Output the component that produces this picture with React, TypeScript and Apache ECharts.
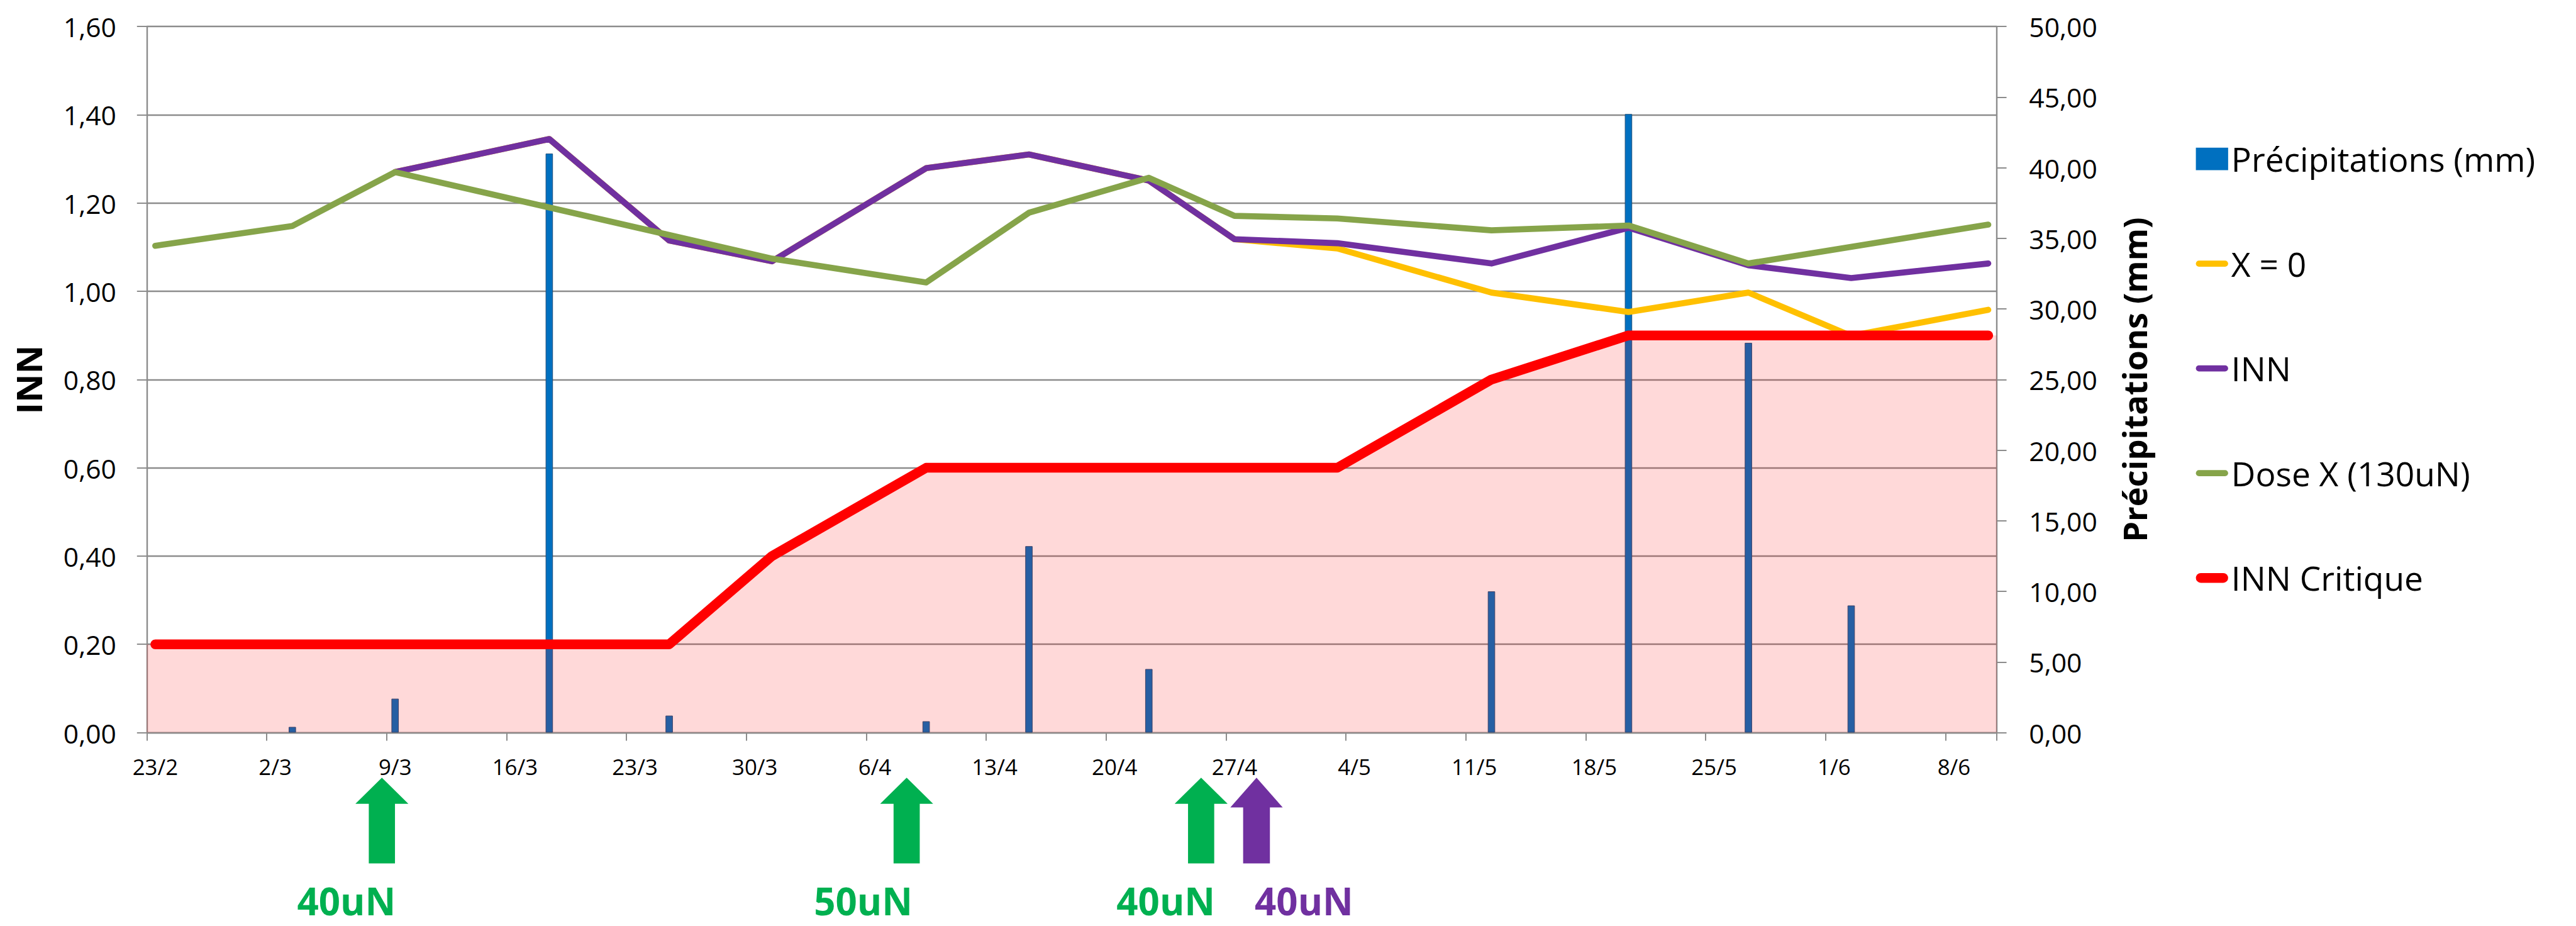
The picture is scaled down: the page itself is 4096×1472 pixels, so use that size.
import React, { useEffect, useRef } from 'react';
import * as echarts from 'echarts';

// ---------- data ----------
const START = '2015-02-23';
const N_DAYS = 108; // date axis spans 23/2 .. 10/6 (one slot per day)
const tickLabels = ['23/2', '2/3', '9/3', '16/3', '23/3', '30/3', '6/4', '13/4', '20/4', '27/4', '4/5', '11/5', '18/5', '25/5', '1/6', '8/6'];

const precipDates = ['2015-03-03', '2015-03-09', '2015-03-18', '2015-03-25', '2015-04-09', '2015-04-15', '2015-04-22', '2015-05-12', '2015-05-20', '2015-05-27', '2015-06-02'];
const precipMm = [0.4, 2.4, 41.0, 1.2, 0.8, 13.2, 4.5, 10.0, 43.8, 27.6, 9.0];

const innDates = ['2015-03-09', '2015-03-18', '2015-03-25', '2015-03-31', '2015-04-09', '2015-04-15', '2015-04-22', '2015-04-27', '2015-05-03', '2015-05-12', '2015-05-20', '2015-05-27', '2015-06-02', '2015-06-10'];
const innValues = [1.27, 1.345, 1.115, 1.068, 1.279, 1.31, 1.251, 1.118, 1.109, 1.063, 1.144, 1.059, 1.03, 1.063];
const x0Values = [1.27, 1.345, 1.115, 1.068, 1.279, 1.31, 1.251, 1.118, 1.097, 0.997, 0.953, 0.997, 0.899, 0.958];

const doseDates = ['2015-02-23', '2015-03-03', '2015-03-09', '2015-03-31', '2015-04-09', '2015-04-15', '2015-04-22', '2015-04-27', '2015-05-03', '2015-05-12', '2015-05-20', '2015-05-27', '2015-06-10'];
const doseValues = [1.103, 1.148, 1.27, 1.074, 1.02, 1.178, 1.257, 1.171, 1.165, 1.138, 1.149, 1.063, 1.151];

const critDates = ['2015-02-23', '2015-03-25', '2015-03-31', '2015-04-09', '2015-05-03', '2015-05-12', '2015-05-20', '2015-06-10'];
const critValues = [0.2, 0.2, 0.4, 0.6, 0.6, 0.8, 0.9, 0.9];

const applications = [
  { label: '40uN', kind: 'dose' },
  { label: '50uN', kind: 'dose' },
  { label: '40uN', kind: 'dose' },
  { label: '40uN', kind: 'inn' },
];

// ---------- layout / style ----------
const S = 0.968;
const FONT = "'Open Sans', sans-serif";
const GRAY = '#8C8C8C';
const GREEN_ANN = '#00B050';
const PURPLE = '#7030A0';
const YELLOW = '#FFC000';
const OLIVE = '#86A44A';
const RED = '#FF0000';
const BLUE = '#0070C0';

const arrowLayout = [
  { cx: 627.3, tx: 569, head: 43.5, shaft: 21.5, base: 1320 },
  { cx: 1489.3, tx: 1418, head: 43.5, shaft: 21.5, base: 1320 },
  { cx: 1973, tx: 1915, head: 43.5, shaft: 21.5, base: 1320 },
  { cx: 2064, tx: 2142, head: 43, shaft: 22, base: 1326 },
];
const ARROW_TIP = 1277;
const ARROW_BOTTOM = 1418;
const ANN_TEXT_Y = 1479;

const dayIndex = (iso: string) => Math.round((Date.parse(iso) - Date.parse(START)) / 86400000);
const pairs = (dates: string[], vals: number[]) => dates.map((d, i) => [dayIndex(d), vals[i]]);
const fmt = (v: number) => v.toFixed(2).replace('.', ',');

const thinIcon = (w: number, h: number) => {
  const r = h / 2;
  return `path://M${r},0 L${w - r},0 A${r},${r} 0 0 1 ${w - r},${h} L${r},${h} A${r},${r} 0 0 1 ${r},0 Z`;
};

function buildOption() {
  const categories = Array.from({ length: N_DAYS }, (_, i) => String(i));
  const areaData = [
    [0, critValues[0]],
    ...critDates.map((d, i) => [dayIndex(d) + 0.5, critValues[i]]),
    [N_DAYS, critValues[critValues.length - 1]],
  ];
  const lineCommon = (name: string, color: string, width: number, data: number[][]) => ({
    name,
    type: 'line',
    xAxisIndex: 0,
    yAxisIndex: 0,
    data,
    symbol: 'none',
    showSymbol: false,
    itemStyle: { color },
    lineStyle: { color, width, cap: 'round', join: 'round' },
    emphasis: { disabled: true },
  });

  const itemW = 53 * S;
  const itemH = 37 * S;

  const graphics: any[] = [
    {
      type: 'text',
      x: 46.5 * S,
      y: 623.5 * S,
      rotation: Math.PI / 2,
      style: { text: 'INN', fill: '#000', fontFamily: FONT, fontWeight: 'bold', fontSize: 58 * S, align: 'center', verticalAlign: 'middle' },
    },
    {
      type: 'text',
      x: 3506 * S,
      y: 623.5 * S,
      rotation: Math.PI / 2,
      style: { text: 'Précipitations (mm)', fill: '#000', fontFamily: FONT, fontWeight: 'bold', fontSize: 54 * S, align: 'center', verticalAlign: 'middle' },
    },
  ];
  applications.forEach((a, i) => {
    const L = arrowLayout[i];
    const color = a.kind === 'inn' ? PURPLE : GREEN_ANN;
    const pts = [
      [L.cx, ARROW_TIP],
      [L.cx + L.head, L.base],
      [L.cx + L.shaft, L.base],
      [L.cx + L.shaft, ARROW_BOTTOM],
      [L.cx - L.shaft, ARROW_BOTTOM],
      [L.cx - L.shaft, L.base],
      [L.cx - L.head, L.base],
    ].map(([x, y]) => [x * S, y * S]);
    graphics.push({ type: 'polygon', shape: { points: pts }, style: { fill: color } });
    graphics.push({
      type: 'text',
      x: L.tx * S,
      y: ANN_TEXT_Y * S,
      style: { text: a.label, fill: color, fontFamily: FONT, fontWeight: 'bold', fontSize: 62 * S, align: 'center', verticalAlign: 'middle' },
    });
  });

  return {
    animation: false,
    backgroundColor: '#ffffff',
    grid: {
      left: 241 * S,
      right: 4096 - 3280 * S,
      top: 43.5 * S,
      bottom: 1472 - 1203 * S,
      containLabel: false,
    },
    legend: {
      orient: 'vertical',
      left: 3607 * S,
      top: 261 * S - 30,
      padding: 0,
      itemGap: 172 * S - 60,
      itemWidth: itemW,
      itemHeight: itemH,
      selectedMode: false,
      itemStyle: { borderWidth: 0 },
      textStyle: { fontFamily: FONT, fontSize: 55 * S, lineHeight: 60, color: '#000' },
      data: [
        { name: 'Précipitations (mm)', icon: 'rect' },
        { name: 'X = 0', icon: thinIcon(itemW, 10 * S) },
        { name: 'INN', icon: thinIcon(itemW, 10 * S) },
        { name: 'Dose X (130uN)', icon: thinIcon(itemW, 10 * S) },
        { name: 'INN Critique', icon: thinIcon(itemW, 16 * S) },
      ],
    },
    xAxis: [
      {
        type: 'category',
        data: categories,
        boundaryGap: true,
        position: 'bottom',
        axisLine: { show: true, lineStyle: { color: GRAY, width: 2.4 } },
        axisTick: { show: true, interval: 6, length: 13.5 * S, lineStyle: { color: GRAY, width: 2 } },
        axisLabel: {
          interval: 6,
          formatter: (_v: string, idx: number) => tickLabels[Math.round(idx / 7)] ?? '',
          color: '#000',
          fontFamily: FONT,
          fontSize: 36 * S,
          lineHeight: 36 * S,
          margin: 37,
        },
        splitLine: { show: false },
      },
      { type: 'value', min: 0, max: N_DAYS, show: false },
    ],
    yAxis: [
      {
        type: 'value',
        position: 'left',
        min: 0,
        max: 1.6,
        interval: 0.2,
        axisLine: { show: true, lineStyle: { color: GRAY, width: 2.4 } },
        axisTick: { show: true, length: 16 * S, lineStyle: { color: GRAY, width: 2 } },
        axisLabel: { formatter: fmt, color: '#000', fontFamily: FONT, fontSize: 44 * S, margin: 50 * S },
        splitLine: { show: true, lineStyle: { color: GRAY, width: 2.4 } },
      },
      {
        type: 'value',
        position: 'right',
        min: 0,
        max: 50,
        interval: 5,
        axisLine: { show: true, lineStyle: { color: GRAY, width: 2.4 } },
        axisTick: { show: true, length: 16 * S, lineStyle: { color: GRAY, width: 2 } },
        axisLabel: { formatter: fmt, color: '#000', fontFamily: FONT, fontSize: 44 * S, margin: 53 * S },
        splitLine: { show: false },
      },
    ],
    series: [
      {
        name: 'Précipitations (mm)',
        type: 'bar',
        xAxisIndex: 0,
        yAxisIndex: 1,
        data: pairs(precipDates, precipMm),
        barWidth: 12 * S,
        itemStyle: { color: BLUE, borderColor: '#1F4E79', borderWidth: 1 },
        emphasis: { disabled: true },
      },
      {
        name: 'zone critique',
        type: 'line',
        xAxisIndex: 1,
        yAxisIndex: 0,
        data: areaData,
        symbol: 'none',
        showSymbol: false,
        silent: true,
        lineStyle: { width: 0 },
        areaStyle: { color: 'rgba(255,0,0,0.15)', opacity: 1 },
        emphasis: { disabled: true },
      },
      lineCommon('X = 0', YELLOW, 10 * S, pairs(innDates, x0Values)),
      lineCommon('INN', PURPLE, 10 * S, pairs(innDates, innValues)),
      lineCommon('Dose X (130uN)', OLIVE, 10 * S, pairs(doseDates, doseValues)),
      lineCommon('INN Critique', RED, 16 * S, pairs(critDates, critValues)),
    ],
    graphic: graphics,
  };
}

export default function App() {
  const ref = useRef<HTMLDivElement>(null);
  useEffect(() => {
    if (!ref.current) return;
    const chart = echarts.init(ref.current, null, { renderer: 'svg' });
    chart.setOption(buildOption() as any);
    return () => chart.dispose();
  }, []);
  return (
    <div
      ref={ref}
      style={{ position: 'fixed', left: 0, top: 0, width: 4096, height: 1472, background: '#fff' }}
    />
  );
}
